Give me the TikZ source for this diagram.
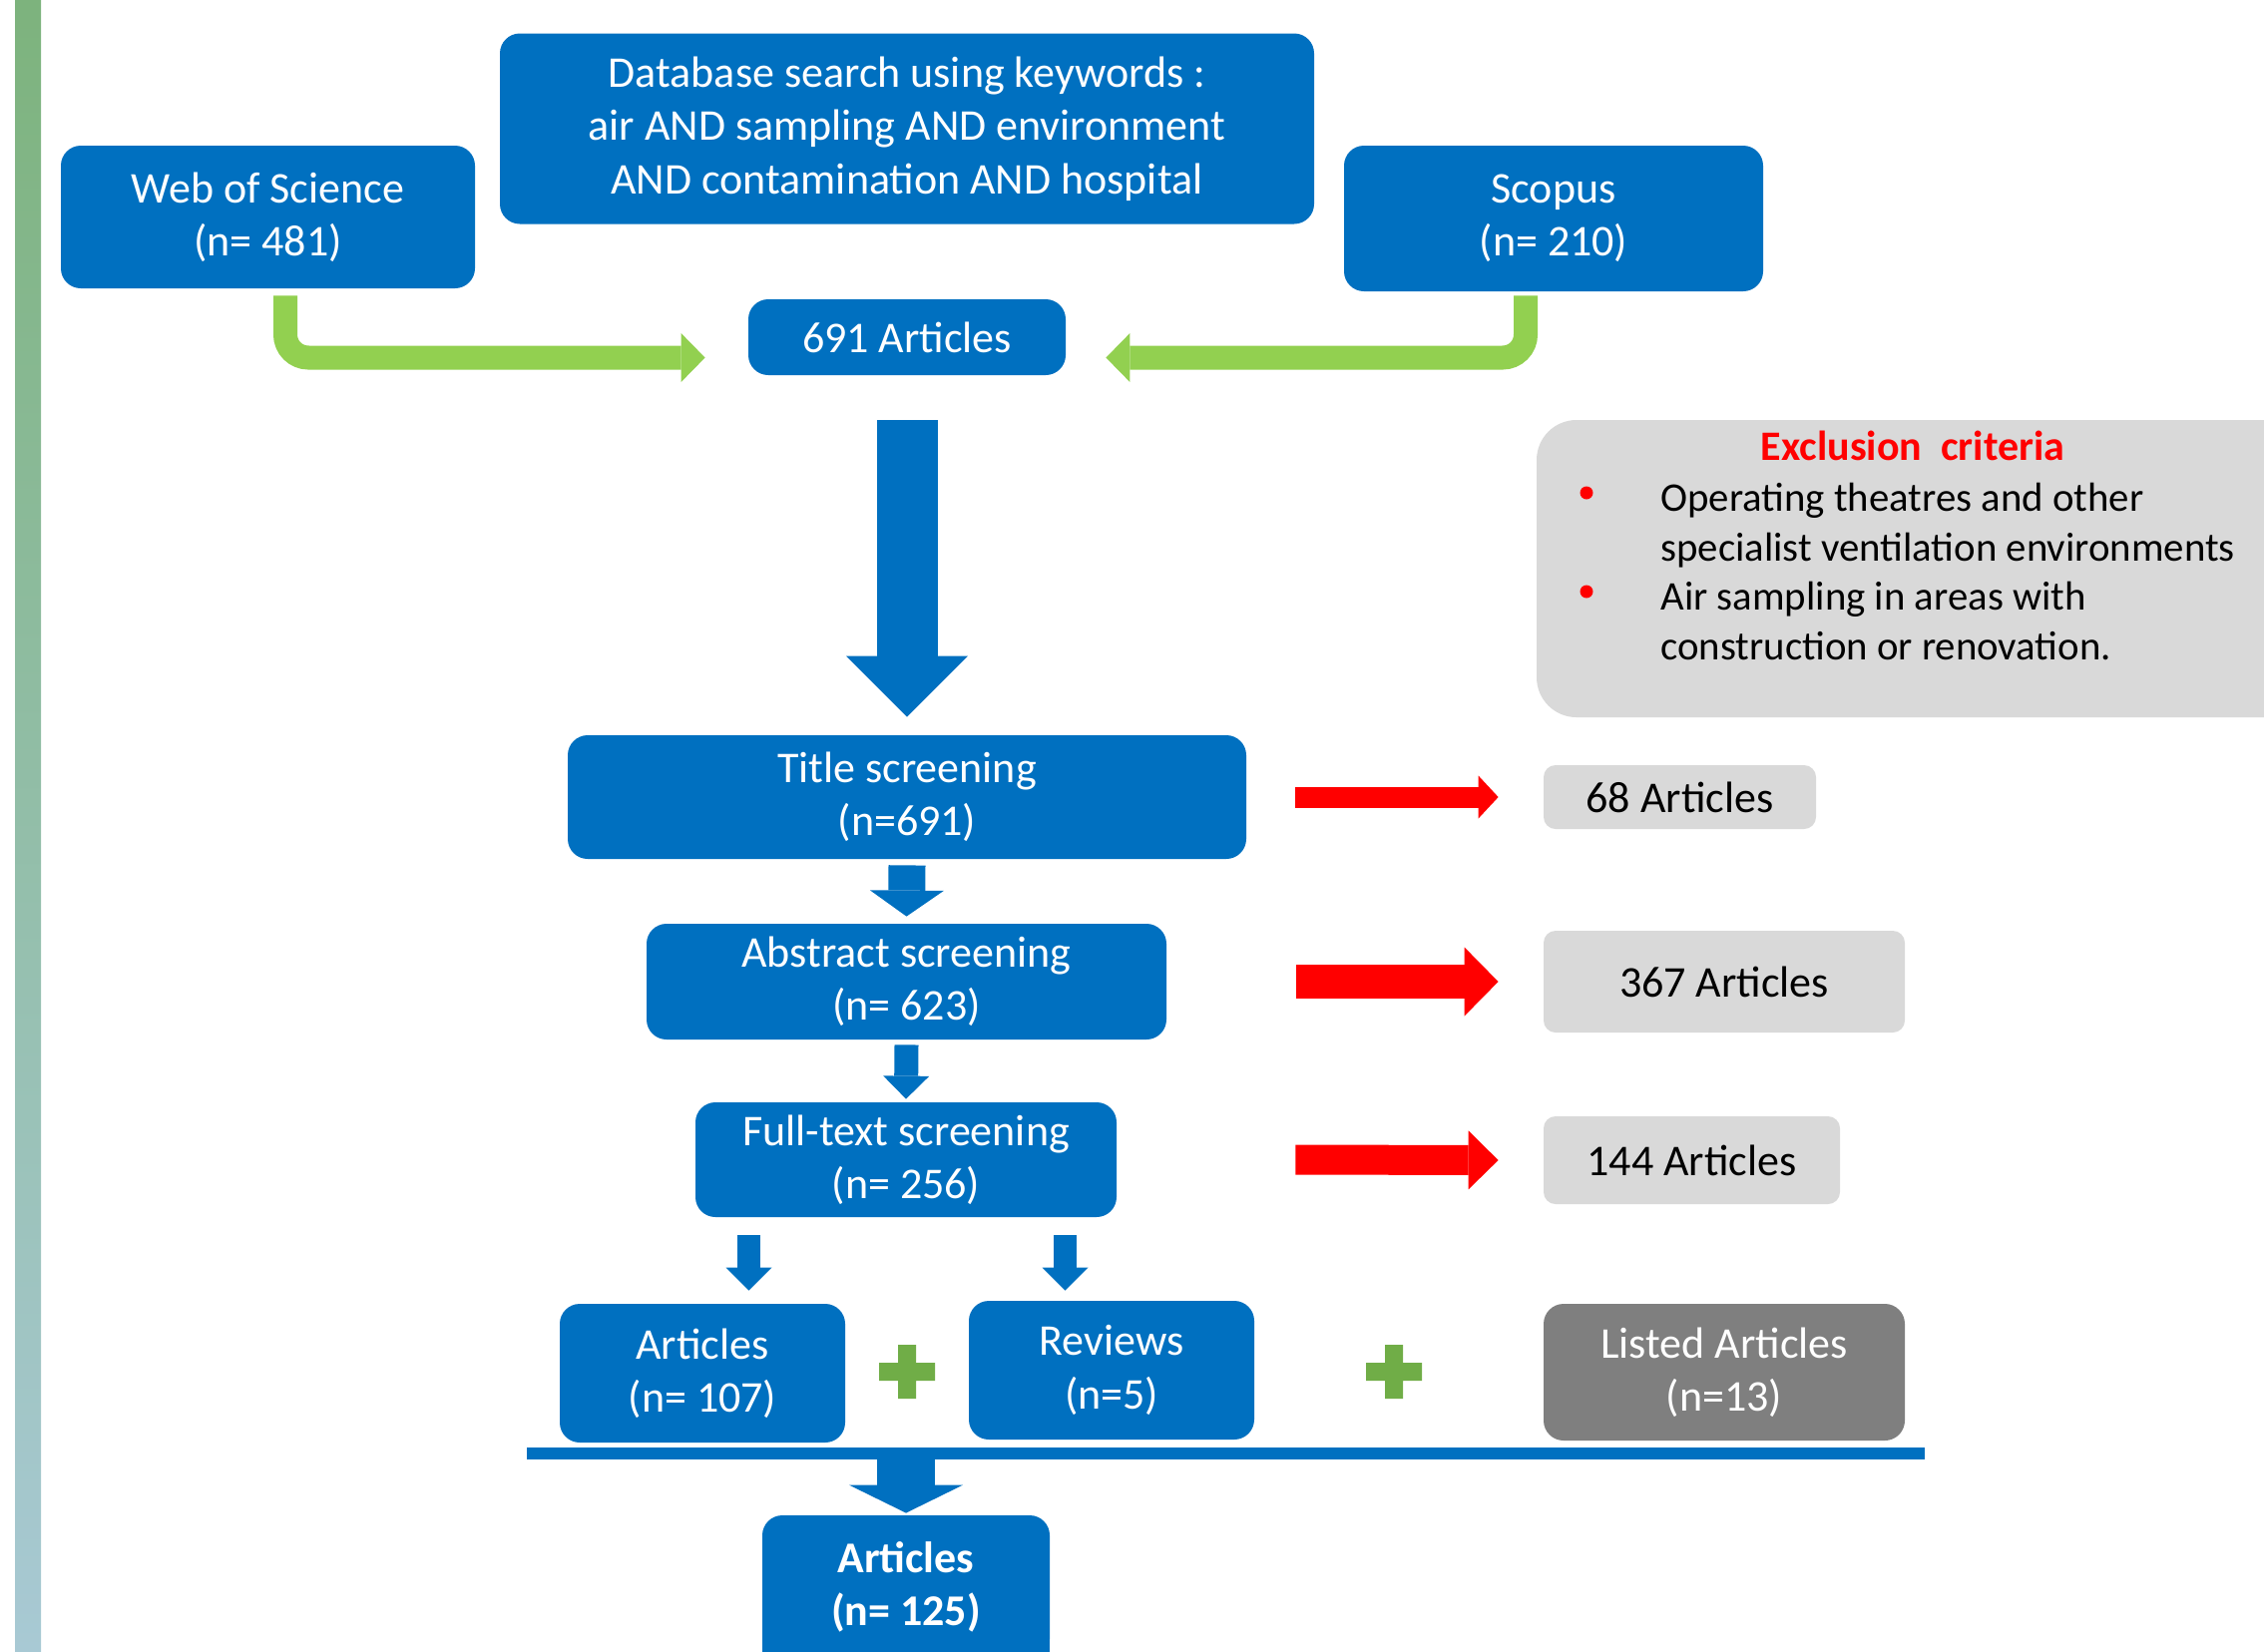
\documentclass[tikz,border=0pt]{standalone}
\usepackage{fontspec}
\setmainfont{Carlito}
\usetikzlibrary{arrows.meta,calc}
\definecolor{cblue}{HTML}{0070C0}
\definecolor{cgrey}{HTML}{D9D9D9}
\definecolor{cdark}{HTML}{7F7F7F}
\definecolor{cgreen}{HTML}{92D050}
\definecolor{cplus}{HTML}{70AD47}
\definecolor{cred}{HTML}{FF0000}
\definecolor{stripetop}{RGB}{125,179,125}
\definecolor{stripebot}{RGB}{168,201,212}
\begin{document}
\begin{tikzpicture}[x=0.5pt,y=-0.5pt,
  sz/.style 2 args={minimum width=#1*0.5pt, minimum height=#2*0.5pt},
  boxfont/.style={font=\fontsize{22}{26.7}\selectfont},
  bluebox/.style={fill=cblue, rounded corners=10pt, text=white, align=center, inner sep=0pt, boxfont},
  greybox/.style={fill=cgrey, rounded corners=6pt, text=black, align=center, inner sep=0pt, boxfont},
  darkbox/.style={fill=cdark, rounded corners=10pt, text=white, align=center, inner sep=0pt, boxfont},
  blockarrow/.style n args={4}{draw=#1, line width=#2, -{Triangle[length=#3, width=#4, line width=0pt]}},
  exclfont/.style={font=\fontsize{20.4}{24.85}\selectfont}
]
\clip (0,0) rectangle (2269,1655);
\fill[white] (0,0) rectangle (2269,1655);
\shade[top color=stripetop, bottom color=stripebot] (15,0) rectangle (41,1655);

% top boxes
\node[bluebox, sz={816}{191}] (db) at (909,129) {Database search using keywords :\\air AND sampling AND environment\\AND contamination AND hospital};
\node[bluebox, sz={415}{143}] (wos) at (268.5,217.5) {Web of Science\\(n= 481)};
\node[bluebox, sz={420}{146}] (scopus) at (1557,219) {Scopus\\(n= 210)};
\node[bluebox, sz={318}{76}] (n691) at (909,338) {691 Articles};

% green arrows
\draw[blockarrow={cgreen}{12pt}{12pt}{24.5pt}, rounded corners=11.5pt]
  ($(wos.south)+(17.5,7)$) |- ($(n691.west)+(-43,20.5)$);
\draw[blockarrow={cgreen}{12pt}{12pt}{24.5pt}, rounded corners=11.5pt]
  ($(scopus.south)+(-28,4)$) |- ($(n691.east)+(40,20.5)$);

% exclusion criteria
\node[fill=cgrey, rounded corners=20pt, sz={790}{298}, inner sep=0pt] (excl) at (1935,570) {};
\node[font=\fontsize{21}{25}\selectfont\bfseries, text=cred, anchor=base, inner sep=0pt] (excltitle) at (1917,461) {Exclusion\ \ criteria};
\node[circle, fill=cred, inner sep=0pt, minimum size=6.5pt] (b1) at (1590,494) {};
\node[circle, fill=cred, inner sep=0pt, minimum size=6.5pt] (b2) at (1590,593) {};
\node[exclfont, align=left, anchor=west, inner sep=0pt] (excltext) at (1664,573)
  {Operating theatres and other\\specialist ventilation environments\\Air sampling in areas with\\construction or renovation.};

% screening column
\node[bluebox, sz={680}{124}] (title) at (909,799) {Title screening\\(n=691)};
\node[bluebox, sz={521}{116}] (abstract) at (908.5,984) {Abstract screening\\(n= 623)};
\node[bluebox, sz={422}{115}] (fulltext) at (908,1162.5) {Full-text screening\\(n= 256)};

\draw[blockarrow={cblue}{30.5pt}{30.5pt}{61pt}] ($(n691.south)+(0,45)$) -- ($(title.north)+(0,-18)$);
\draw[blockarrow={cblue}{18.5pt}{13pt}{37pt}] ($(title.south)+(0,6)$) -- ($(abstract.north)+(0,-7)$);
\draw[blockarrow={cblue}{12pt}{11.5pt}{23pt}] ($(abstract.south)+(0,5)$) -- ($(fulltext.north)+(0,-3)$);

% excluded counts
\node[greybox, sz={273}{64}] (a68) at (1683.5,799) {68 Articles};
\node[greybox, sz={362}{102}] (a367) at (1728,984) {367 Articles};
\node[greybox, sz={297}{88}] (a144) at (1695.5,1163) {144 Articles};

\draw[blockarrow={cred}{10.5pt}{10pt}{21.5pt}] ($(title.east)+(49,0)$) -- ($(a68.west)+(-45,0)$);
\draw[blockarrow={cred}{17pt}{17pt}{34.5pt}] ($(abstract.east)+(129.5,0)$) -- ($(a367.west)+(-45,0)$);
\draw[blockarrow={cred}{15pt}{15pt}{29.5pt}] ($(fulltext.east)+(179,0)$) -- ($(a144.west)+(-45,0)$);

% included
\node[bluebox, sz={286}{139}] (art107) at (704,1376.5) {Articles\\(n= 107)};
\node[bluebox, sz={286}{139}] (reviews) at (1114,1373.5) {Reviews\\(n=5)};
\node[darkbox, sz={362}{137}] (listed) at (1728,1375.5) {Listed Articles\\(n=13)};

\draw[blockarrow={cblue}{11.5pt}{11.5pt}{23pt}] ($(fulltext.south)+(-157.5,18)$) -- ($(art107.north)+(46.5,-13)$);
\draw[blockarrow={cblue}{11.5pt}{11.5pt}{23pt}] ($(fulltext.south)+(159.5,18)$) -- ($(reviews.north)+(-46.5,-10)$);

% plus signs
\fill[cplus] (900,1348) rectangle (918,1402) (881,1366) rectangle (937,1384);
\fill[cplus] (1388,1348) rectangle (1406,1402) (1369,1366) rectangle (1425,1384);

% bar
\coordinate (barL) at (528,1457);
\coordinate (barR) at (1929,1457);
\draw[cblue, line width=6pt] (barL) -- (barR);

% final
\fill[cblue] (764,1590) rectangle (1052,1700);
\node[bluebox, sz={288}{144}, font=\fontsize{22}{26.7}\selectfont\bfseries] (final) at (908,1591) {Articles\\(n= 125)};
\draw[blockarrow={cblue}{29pt}{14pt}{57pt}] ($(final.north |- barL)+(0,6)$) -- ($(final.north)+(0,-2)$);
\end{tikzpicture}
\end{document}
